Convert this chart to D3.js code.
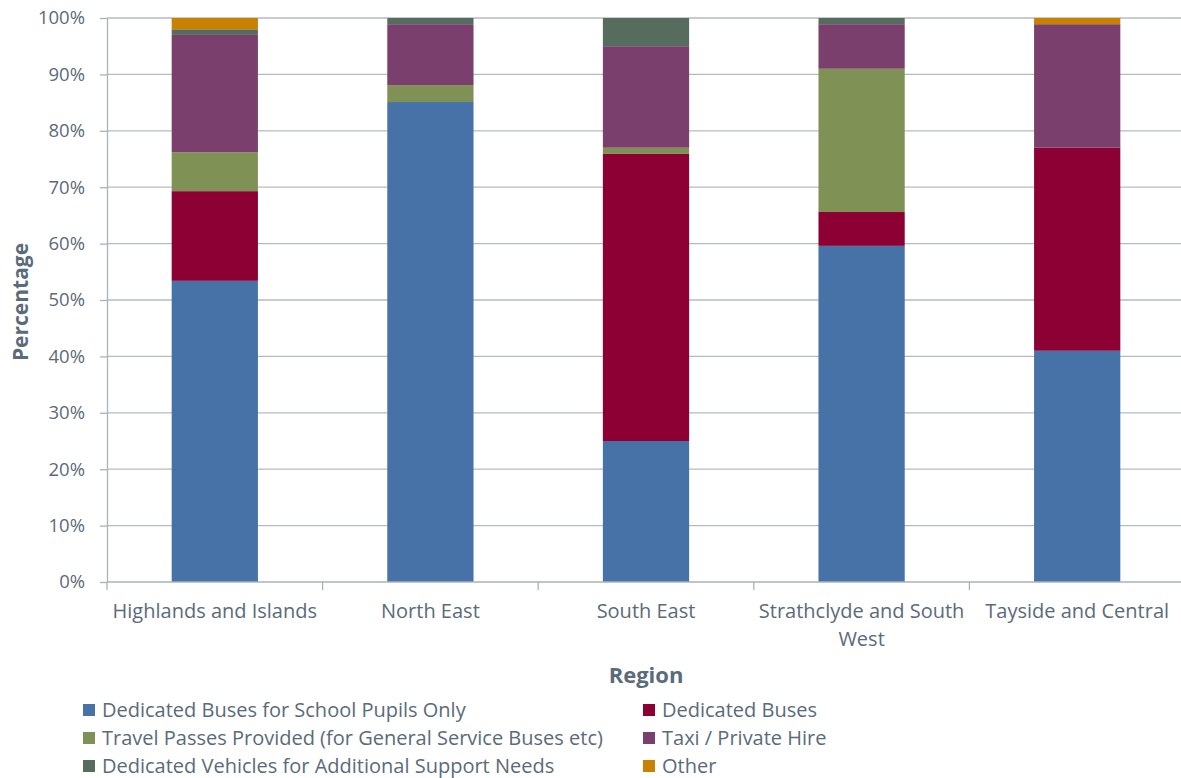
<!DOCTYPE html>
<html>
<head>
<meta charset="utf-8">
<script src="https://cdn.jsdelivr.net/npm/d3@7"></script>
<style>
  body { margin: 0; background: #fff; }
  text { font-family: "Open Sans", "Noto Sans", sans-serif; fill: #5a6b7a; }
</style>
</head>
<body>
<div id="chart"></div>
<script>
// categories and series (percent of each region)
const regions = ["Highlands and Islands", "North East", "South East", "Strathclyde and South West", "Tayside and Central"];
const seriesNames = [
  "Dedicated Buses for School Pupils Only",
  "Dedicated Buses",
  "Travel Passes Provided (for General Service Buses etc)",
  "Taxi / Private Hire",
  "Dedicated Vehicles for Additional Support Needs",
  "Other"
];
const schoolBuses   = [53.4, 85.1, 25.0, 59.6, 41.0];
const dedicatedBuses = [15.9, 0.0, 50.9, 6.0, 36.0];
const travelPasses  = [6.9, 3.0, 1.1, 25.4, 0.0];
const taxi          = [20.8, 10.8, 18.0, 7.9, 21.9];
const asnVehicles   = [1.0, 1.1, 5.0, 1.1, 0.0];
const other         = [2.0, 0.0, 0.0, 0.0, 1.1];
const yTicks = [0, 10, 20, 30, 40, 50, 60, 70, 80, 90, 100];

const colors = ["#4672a7", "#8d0033", "#7f9155", "#7a3f6c", "#566c5e", "#c88100"];
const allSeries = [schoolBuses, dedicatedBuses, travelPasses, taxi, asnVehicles, other];

const W = 1181, H = 778;
const margin = { top: 18, right: 0, bottom: 196, left: 107 };
const width = 1078, height = 564;

const svg = d3.select("#chart").append("svg")
  .attr("width", W).attr("height", H);
const g = svg.append("g").attr("transform", "translate(" + margin.left + "," + margin.top + ")");

const x = d3.scaleBand().domain(regions).range([0, width]).paddingInner(0.6).paddingOuter(0.3);
const xb = d3.scaleBand().domain(regions).range([0, width]);
const y = d3.scaleLinear().domain([0, 100]).range([height, 0]);

// gridlines
g.append("g").selectAll("line").data(yTicks.slice(1)).join("line")
  .attr("x1", 0).attr("x2", width)
  .attr("y1", d => y(d)).attr("y2", d => y(d))
  .attr("stroke", "#b3bbc2").attr("stroke-width", 1.3);

// stacked data
const table = regions.map((r, i) => {
  const o = { region: r };
  seriesNames.forEach((s, k) => o[s] = allSeries[k][i]);
  return o;
});
const stack = d3.stack().keys(seriesNames)(table);

g.append("g").selectAll("g").data(stack).join("g")
  .attr("fill", (d, i) => colors[i])
  .selectAll("rect").data(d => d).join("rect")
  .attr("x", d => x(d.data.region))
  .attr("width", x.bandwidth())
  .attr("y", d => y(d[1]))
  .attr("height", d => y(d[0]) - y(d[1]));

// y axis
const yAxis = g.append("g")
  .call(d3.axisLeft(y).tickValues(yTicks).tickFormat(d => d + "%").tickSize(7).tickSizeOuter(0));
yAxis.select(".domain").attr("stroke", "#a9b2ba").attr("stroke-width", 1.3);
yAxis.selectAll(".tick line").attr("stroke", "#a9b2ba").attr("stroke-width", 1.3);
yAxis.selectAll(".tick text").attr("x", -22).style("font-size", "18.5px").style("font-family", "'Open Sans', sans-serif").attr("fill", "#5a6b7a");

// x axis
const xAxisG = g.append("g").attr("transform", "translate(0," + height + ")");
xAxisG.append("line").attr("x1", 0).attr("x2", width).attr("stroke", "#a9b2ba").attr("stroke-width", 1.3);
xAxisG.selectAll("line.sep").data(regions.concat(["end"])).join("line")
  .attr("class", "sep")
  .attr("x1", (d, i) => i * xb.bandwidth()).attr("x2", (d, i) => i * xb.bandwidth())
  .attr("y1", 0).attr("y2", 8)
  .attr("stroke", "#a9b2ba").attr("stroke-width", 1.3);

const labelLines = {
  "Strathclyde and South West": ["Strathclyde and South", "West"]
};
xAxisG.selectAll("text.lab").data(regions).join("text")
  .attr("class", "lab")
  .attr("text-anchor", "middle")
  .attr("x", d => xb(d) + xb.bandwidth() / 2)
  .attr("y", 36)
  .style("font-size", "20px")
  .each(function (d) {
    const lines = labelLines[d] || [d];
    d3.select(this).selectAll("tspan").data(lines).join("tspan")
      .attr("x", xb(d) + xb.bandwidth() / 2)
      .attr("dy", (l, i) => i === 0 ? 0 : 28)
      .text(l => l);
  });

// axis titles
svg.append("text")
  .attr("x", margin.left + width / 2).attr("y", 683)
  .attr("text-anchor", "middle")
  .style("font-size", "22px").style("font-weight", "bold")
  .text("Region");
svg.append("text")
  .attr("transform", "translate(28,302) rotate(-90)")
  .attr("text-anchor", "middle")
  .style("font-size", "21px").style("font-weight", "bold")
  .text("Percentage");

// legend
const legend = svg.append("g");
const legItems = legend.selectAll("g").data(seriesNames).join("g")
  .attr("transform", (d, i) => "translate(" + (i % 2 === 0 ? 83 : 643) + "," + (710 + Math.floor(i / 2) * 28) + ")");
legItems.append("rect")
  .attr("x", 0).attr("y", -6).attr("width", 12).attr("height", 12)
  .attr("fill", (d, i) => colors[i]);
legItems.append("text")
  .attr("x", 19).attr("y", 7)
  .style("font-size", "20px")
  .text(d => d);
</script>
</body>
</html>
